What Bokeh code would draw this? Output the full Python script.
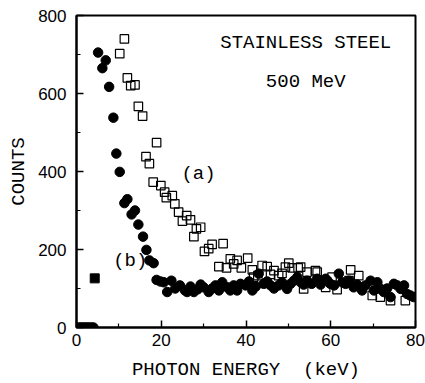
from bokeh.plotting import figure
from bokeh.models import Range1d, FixedTicker
from bokeh.core.properties import value
from bokeh.embed import file_html
from bokeh.resources import INLINE

# ---- data ----
# (b): filled circles
b_energy = [0.5, 1.0, 1.5, 2.0, 2.5, 3.0, 3.5, 4.0,
            5.1, 6.1, 6.9, 7.7, 8.7, 9.4, 10.2, 11.3, 12.0, 13.0, 13.8, 14.6,
            15.7, 16.5, 17.2, 18.2, 18.9, 19.8, 20.6, 21.4, 22.4, 23.3, 24.4,
            25.6, 26.1, 26.9, 27.7, 28.6, 29.3, 30.0, 31.2, 32.0, 32.8, 33.6,
            34.4, 35.6, 36.3, 37.1, 37.9, 38.7, 39.9, 40.7, 41.5, 42.3, 43.0,
            44.2, 45.0, 45.8, 46.6, 47.7, 48.5, 49.7, 50.5, 51.3, 52.1, 52.9,
            53.6, 54.4, 55.5, 56.8, 57.6, 58.8, 59.2, 59.9, 60.8, 61.9, 62.7,
            63.5, 64.3, 65.4, 66.2, 67.4, 68.2, 69.4, 70.2, 71.0, 71.8, 72.5,
            73.3, 74.1, 74.9, 75.7, 76.5, 77.3, 78.0, 78.8, 79.6]
b_counts = [0, 0, 0, 0, 0, 0, 0, 0,
            705, 665, 685, 617, 538, 446, 399, 319, 329, 290, 300, 264,
            233, 199, 172, 165, 122, 118, 116, 91, 120, 100, 108,
            95, 91, 105, 91, 98, 110, 103, 91, 100, 108, 95,
            116, 103, 95, 108, 95, 112, 108, 118, 95, 105, 138,
            112, 118, 108, 100, 108, 116, 99, 112, 120, 129, 116,
            110, 120, 112, 125, 110, 125, 120, 112, 108, 138, 116,
            112, 120, 103, 110, 95, 108, 120, 95, 116, 99, 91,
            100, 78, 112, 108, 99, 108, 86, 82, 78]

# filled square
fs_energy = [4.3]
fs_counts = [126]

# (a): open squares
a_energy = [10.2, 11.3, 12.0, 12.8, 13.8, 14.6, 15.6, 16.4, 17.2, 18.1,
            18.9, 19.9, 20.8, 21.2, 22.6, 23.2, 24.1, 25.0, 26.0, 26.9,
            27.7, 28.3, 29.3, 30.2, 31.2, 32.0, 33.6, 34.6, 35.4, 36.3,
            37.1, 37.9, 38.9, 40.4, 41.5, 41.8, 42.8, 43.8, 45.0, 45.8,
            46.6, 47.7, 48.5, 49.3, 50.1, 50.9, 52.3, 52.9, 53.6, 54.4,
            56.4, 56.8, 58.8, 60.3, 61.5, 64.3, 64.7, 66.6, 69.8, 71.7,
            74.1, 77.6]
a_counts = [702, 740, 640, 620, 622, 567, 542, 438, 420, 373,
            474, 364, 347, 333, 338, 317, 296, 273, 287, 276,
            233, 253, 257, 195, 202, 213, 156, 215, 153, 176,
            163, 172, 153, 178, 148, 129, 133, 159, 156, 136,
            146, 133, 139, 155, 165, 153, 153, 155, 99, 142,
            146, 142, 103, 129, 97, 120, 148, 133, 82, 78,
            69, 69]

x_ticks = [0, 20, 40, 60, 80]
y_ticks = [0, 200, 400, 600, 800]

MONO = "Liberation Mono"
SANS = "Liberation Sans"

p = figure(width=425, height=383, output_backend="svg", toolbar_location=None,
           x_range=Range1d(0, 80), y_range=Range1d(0, 800),
           min_border_left=76, min_border_right=10, min_border_top=15,
           min_border_bottom=56)
p.grid.visible = False
p.outline_line_color = "black"
p.outline_line_width = 2
p.background_fill_color = "white"
p.border_fill_color = "white"

p.scatter(b_energy, b_counts, marker="circle", size=9.5,
          fill_color="black", line_color="black")
p.scatter(fs_energy, fs_counts, marker="square", size=9,
          fill_color="black", line_color="black")
p.scatter(a_energy, a_counts, marker="square", size=8.5,
          fill_color="white", fill_alpha=0, line_color="black", line_width=1.2)

for ax, ticks in ((p.xaxis[0], x_ticks), (p.yaxis[0], y_ticks)):
    ax.ticker = FixedTicker(ticks=ticks,
                            minor_ticks=[t + (ticks[1] - ticks[0]) / 2 for t in ticks[:-1]])
    ax.major_tick_in = 7
    ax.major_tick_out = 0
    ax.minor_tick_in = 4
    ax.minor_tick_out = 0
    ax.axis_line_width = 2
    ax.major_tick_line_width = 1.5
    ax.minor_tick_line_width = 1.2
    ax.major_label_text_font = SANS
    ax.major_label_text_font_size = "17px"
    ax.major_label_text_color = "black"
    ax.axis_label_text_font = MONO
    ax.axis_label_text_font_size = "19px"
    ax.axis_label_text_font_style = "normal"
    ax.axis_label_text_color = "black"

p.xaxis.axis_label = "PHOTON ENERGY\u00a0\u00a0(keV)"
p.yaxis.axis_label = "COUNTS"
p.xaxis.major_label_standoff = 6
p.yaxis.major_label_standoff = 10
p.xaxis.axis_label_standoff = 10
p.yaxis.axis_label_standoff = 5

p.text(x=[54.1], y=[730], text=["STAINLESS STEEL"], text_font=value(MONO),
       text_font_size="19px", text_align="center", text_baseline="middle",
       text_color="black")
p.text(x=[54.1], y=[630], text=["500 MeV"], text_font=value(MONO),
       text_font_size="19px", text_align="center", text_baseline="middle",
       text_color="black")
p.text(x=[28.8], y=[394], text=["(a)"], text_font=value(MONO),
       text_font_size="19px", text_align="center", text_baseline="middle",
       text_color="black")
p.text(x=[12.7], y=[170], text=["(b)"], text_font=value(MONO),
       text_font_size="19px", text_align="center", text_baseline="middle",
       text_color="black")

open("out.html", "w").write(file_html(p, INLINE))
